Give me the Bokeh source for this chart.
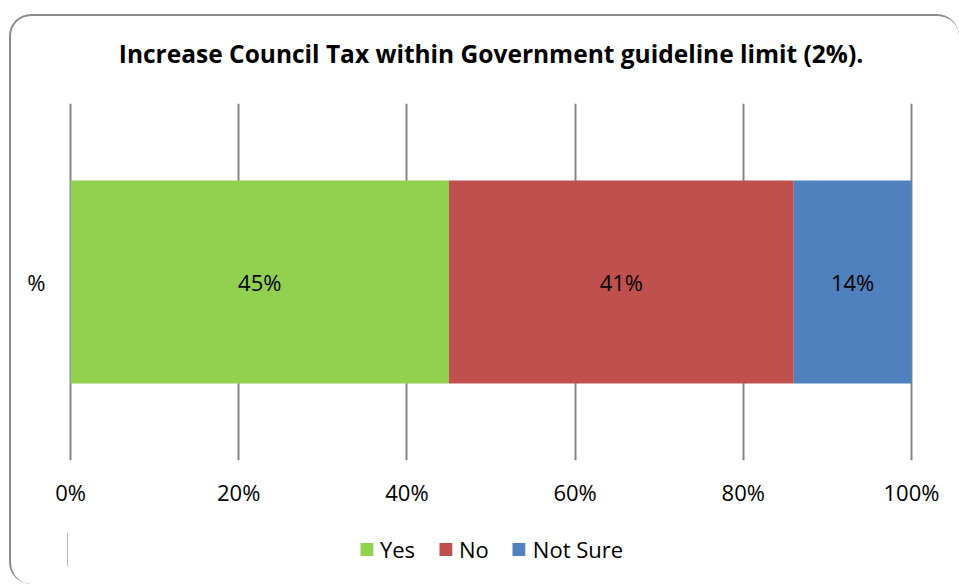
from bokeh.plotting import figure
from bokeh.layouts import column
from bokeh.models import ColumnDataSource, FactorRange, Legend, LegendItem, NumeralTickFormatter, FixedTicker, Range1d
from bokeh.core.properties import value
from bokeh.embed import file_html
from bokeh.resources import INLINE

title = "Increase Council Tax within Government guideline limit (2%)."
category = ["%"]
series = ["Yes", "No", "Not Sure"]
values = [0.45, 0.41, 0.14]
labels = ["45%", "41%", "14%"]
colors = ["#92D050", "#C0504D", "#4F81BD"]
x_ticks = [0, 0.2, 0.4, 0.6, 0.8, 1.0]

FONT = "Open Sans"

border_css = """
:host::after {
  content: "";
  position: absolute;
  left: 9px; top: 14px; width: 950px; height: 570px;
  box-sizing: border-box;
  border-style: solid;
  border-color: #8C8C8C;
  border-width: 2px 0 0 2px;
  border-radius: 22px;
  pointer-events: none;
  z-index: 10;
}
"""

# ---- main chart ----
p = figure(width=959, height=520, output_backend="svg", toolbar_location=None,
           y_range=FactorRange(*category), x_range=Range1d(-0.0036, 1.0036),
           min_border_left=67, min_border_right=45, min_border_top=103, min_border_bottom=60)
p.outline_line_color = None
p.background_fill_color = "white"
p.border_fill_color = "white"

p.title.text = title
p.title.align = "center"
p.title.text_font = FONT
p.title.text_font_style = "bold"
p.title.text_font_size = "24.5px"
p.title.text_color = "#000000"
p.title.standoff = 67

p.xaxis.ticker = FixedTicker(ticks=x_ticks)
p.xaxis.formatter = NumeralTickFormatter(format="0%")
for ax in (p.xaxis, p.yaxis):
    ax.axis_line_color = None
    ax.major_tick_line_color = None
    ax.minor_tick_line_color = None
    ax.major_tick_out = 0
    ax.major_tick_in = 0
    ax.minor_tick_out = 0
    ax.minor_tick_in = 0
    ax.major_label_text_font = FONT
    ax.major_label_text_font_size = "22px"
    ax.major_label_text_color = "#000000"
p.xaxis.major_label_standoff = 16
p.yaxis.major_label_standoff = 22

p.xgrid.grid_line_color = "#868686"
p.xgrid.grid_line_width = 2
p.ygrid.grid_line_color = None

sources = []
left = 0.0
centers = []
for s, v, c in zip(series, values, colors):
    src = ColumnDataSource(dict(y=category, left=[left], right=[left + v]))
    sources.append(src)
    p.hbar(y="y", left="left", right="right", height=0.569, fill_color=c, line_color=None, source=src)
    centers.append(left + v / 2)
    left += v

p.text(x=centers, y=[category[0]] * len(centers), text=labels, text_align="center", text_baseline="middle",
       text_font=value(FONT), text_font_size="22px", text_color="#000000")

# ---- legend strip (same series; bars lie outside this strip's x range, only the legend shows) ----
p2 = figure(width=959, height=58, output_backend="svg", toolbar_location=None,
            y_range=FactorRange(*category), x_range=Range1d(2, 3),
            x_axis_location=None, y_axis_location=None,
            min_border_left=28, min_border_right=0, min_border_top=0, min_border_bottom=0)
p2.outline_line_color = None
p2.background_fill_color = "white"
p2.border_fill_color = "white"
p2.xgrid.visible = False
p2.ygrid.visible = False

legend_renderers = []
for s, c, src in zip(series, colors, sources):
    r = p2.hbar(y="y", left="left", right="right", height=0.569, fill_color=c, line_color=None, source=src)
    legend_renderers.append(r)

legend = Legend(items=[LegendItem(label=s, renderers=[r]) for s, r in zip(series, legend_renderers)],
                orientation="horizontal", location="center")
legend.label_text_font = FONT
legend.label_text_font_size = "22px"
legend.label_text_color = "#000000"
legend.label_standoff = 6
legend.glyph_width = 16
legend.glyph_height = 16
legend.spacing = 22
legend.padding = 0
legend.margin = 0
legend.border_line_color = None
legend.background_fill_alpha = 0
p2.add_layout(legend)

layout = column(p, p2, spacing=0, stylesheets=[border_css])

open("out.html", "w").write(file_html(layout, INLINE))
